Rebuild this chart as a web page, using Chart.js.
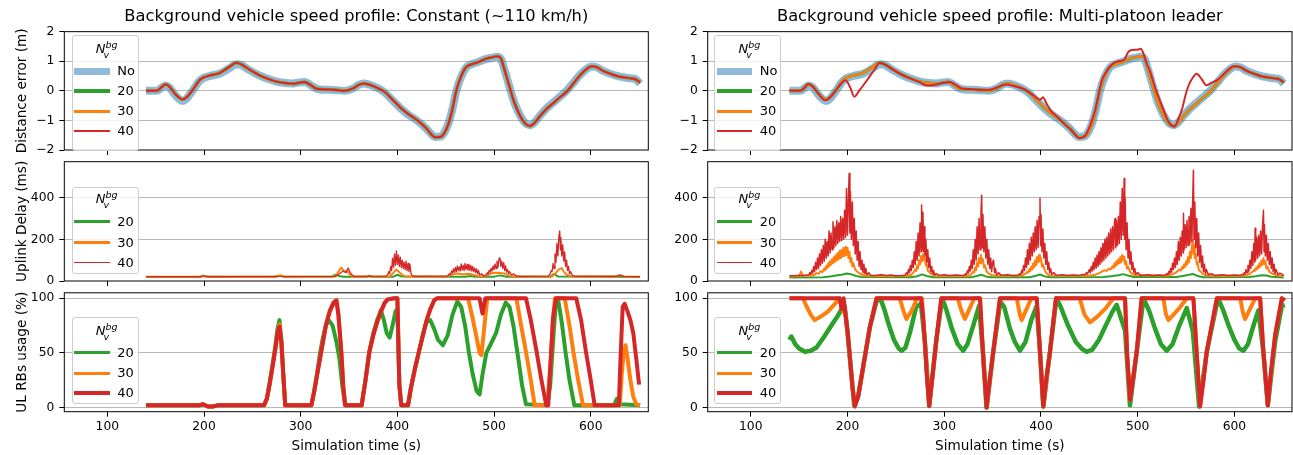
<!DOCTYPE html>
<html>
<head>
<meta charset="utf-8">
<script src="https://cdn.jsdelivr.net/npm/chart.js@4.4.1/dist/chart.umd.min.js"></script>
<style>
  body { margin: 0; background: #fff; }
  #fig { position: relative; width: 1293px; height: 455px; overflow: hidden; font-family: 'DejaVu Sans', sans-serif; }
  #fig canvas { position: absolute; }
  .leg { position: absolute; box-sizing: border-box; border: 1px solid #cccccc; border-radius: 3px; background: rgba(255,255,255,0.8); }
  .leg .ttl { position: absolute; left: 0; width: 100%; text-align: center; font-size: 13px; line-height: 14px; height: 14px; }
  .leg .ss { display: inline-block; position: relative; width: 9px; height: 14px; vertical-align: top; }
  .leg .sp { position: absolute; left: 0; top: -4px; font-size: 9.5px; }
  .leg .sb { position: absolute; left: -2px; top: 6px; font-size: 9.5px; }
  .leg .sw { position: absolute; left: 1.5px; width: 35.5px; }
  .leg .lb { position: absolute; left: 44.5px; font-size: 13px; line-height: 16px; height: 16px; }
</style>
</head>
<body>
<div id="fig">
  <canvas id="distL" width="660" height="155" style="left:0;top:0"></canvas>
  <canvas id="distR" width="643" height="155" style="left:650px;top:0"></canvas>
  <canvas id="delayL" width="660" height="131" style="left:0;top:155px"></canvas>
  <canvas id="delayR" width="643" height="131" style="left:650px;top:155px"></canvas>
  <canvas id="rbL" width="660" height="169" style="left:0;top:286px"></canvas>
  <canvas id="rbR" width="643" height="169" style="left:650px;top:286px"></canvas>
</div>
<script>
// tick values
const xTicks = [100, 200, 300, 400, 500, 600];
const distTicks = [-2, -1, 0, 1, 2];
const delayTicks = [0, 200, 400];
const rbTicks = [0, 50, 100];

// distance error (m), [time s, value]
const distNo = [[140,0],[151,0],[156,0.1],[160,0.18],[164,0.12],[170,-0.14],[175,-0.3],[178,-0.34],[182,-0.26],[188,0],[196,0.36],[206,0.5],[216,0.58],[222,0.68],[228,0.8],[233,0.9],[238,0.88],[247,0.7],[256,0.54],[265,0.42],[274,0.32],[282,0.27],[292,0.25],[298,0.28],[304,0.3],[310,0.2],[316,0.08],[322,0.04],[334,0.03],[346,0.0],[354,0.08],[360,0.2],[365,0.25],[370,0.22],[375,0.16],[381,0.07],[387,-0.06],[395,-0.32],[403,-0.58],[411,-0.8],[420,-1.0],[430,-1.28],[435,-1.46],[439,-1.56],[445,-1.54],[449,-1.38],[453,-1.08],[457,-0.6],[461,0.0],[466,0.48],[471,0.78],[477,0.9],[482,0.96],[487,1.02],[492,1.08],[498,1.12],[503,1.15],[507,1.08],[510,0.8],[516,0.13],[521,-0.4],[527,-0.84],[532,-1.08],[537,-1.16],[542,-1.06],[547,-0.86],[554,-0.6],[561,-0.4],[568,-0.2],[575,0.0],[582,0.27],[589,0.54],[595,0.72],[601,0.82],[606,0.8],[613,0.67],[620,0.58],[628,0.5],[635,0.45],[642,0.42],[647,0.38],[651,0.24]];
const distConst = [[140,0],[151,0],[156,0.12],[160,0.21],[164,0.15],[170,-0.1],[175,-0.25],[178,-0.29],[182,-0.22],[188,0.02],[196,0.38],[206,0.52],[216,0.6],[222,0.72],[228,0.85],[233,0.95],[238,0.9],[247,0.72],[256,0.55],[265,0.42],[274,0.32],[282,0.27],[292,0.24],[298,0.27],[304,0.3],[310,0.2],[316,0.08],[322,0.05],[334,0.04],[346,0.0],[354,0.08],[360,0.2],[365,0.25],[370,0.22],[375,0.16],[381,0.07],[387,-0.04],[395,-0.3],[403,-0.56],[411,-0.78],[420,-0.98],[430,-1.27],[435,-1.47],[439,-1.57],[445,-1.55],[449,-1.4],[453,-1.1],[457,-0.6],[461,0.02],[466,0.5],[471,0.8],[477,0.9],[482,0.95],[487,1.02],[492,1.09],[498,1.13],[503,1.17],[507,1.1],[510,0.8],[516,0.13],[521,-0.4],[527,-0.85],[532,-1.1],[537,-1.19],[542,-1.08],[547,-0.87],[554,-0.62],[561,-0.42],[568,-0.22],[575,-0.03],[582,0.25],[589,0.53],[595,0.72],[601,0.83],[606,0.8],[613,0.67],[620,0.58],[628,0.49],[635,0.45],[642,0.42],[647,0.38],[651,0.28]];
const distMulti40 = [[140,0],[151,0],[156,0.12],[159,0.23],[164,0.15],[170,-0.1],[177,-0.32],[182,-0.22],[188,0.02],[192,0.19],[198,0.36],[203,0.1],[207,-0.2],[212,0.0],[220,0.35],[228,0.72],[233,0.94],[238,0.9],[247,0.72],[254,0.58],[265,0.42],[274,0.3],[282,0.18],[290,0.2],[298,0.26],[306,0.3],[312,0.2],[318,0.08],[326,0.06],[334,0.04],[347,0.04],[355,0.12],[364,0.21],[372,0.16],[381,0.08],[388,-0.05],[394,-0.2],[399,-0.3],[402,-0.22],[406,-0.45],[411,-0.7],[416,-0.85],[425,-1.15],[432,-1.35],[440,-1.6],[446,-1.5],[451,-1.15],[456,-0.65],[463,0.36],[467,0.62],[471,0.81],[476,0.95],[480,1.0],[486,1.05],[490,1.3],[493,1.37],[500,1.39],[503,1.42],[506,1.26],[509,0.95],[513,0.64],[518,0.1],[523,-0.33],[528,-0.75],[532,-1.05],[538,-1.21],[542,-0.95],[546,-0.6],[549,-0.2],[552,0.13],[556,0.4],[561,0.58],[566,0.4],[571,0.19],[576,0.27],[582,0.36],[590,0.6],[599,0.83],[606,0.8],[613,0.67],[620,0.58],[628,0.49],[635,0.45],[642,0.42],[647,0.38],[651,0.28]];

// uplink delay (ms)
const delayConst20 = [[140,19],[196,19],[199,26],[203,20],[272,20],[278,25],[284,20],[332,20],[336,30],[340,24],[344,20],[368,20],[371,26],[374,20],[396,21],[400,30],[404,22],[470,20],[476,24],[480,20],[500,21],[506,27],[512,21],[558,21],[562,34],[566,22],[620,20],[651,19]];
const delayConst30 = [[140,20],[196,20],[199,24],[203,21],[275,21],[279,28],[283,21],[336,22],[339,45],[342,65],[345,45],[348,50],[351,30],[354,21],[392,22],[396,40],[399,56],[402,42],[405,30],[408,22],[450,22],[456,30],[462,36],[468,32],[474,35],[480,28],[486,22],[492,26],[498,38],[504,40],[510,36],[516,26],[522,21],[560,22],[564,40],[567,55],[570,62],[572,45],[575,30],[580,22],[626,22],[630,28],[634,22],[651,21]];
const delayConst40 = [[140,21],[196,21],[200,25],[204,21],[336,22],[340,35],[344,48],[347,40],[349,62],[352,35],[355,22],[388,23],[390,30],[391,45],[392,35],[393,70],[394,50],[395,110],[396,65],[397,130],[398,75],[399,145],[400,80],[401,125],[402,70],[403,115],[404,65],[405,100],[406,60],[407,90],[408,55],[409,95],[410,50],[411,85],[412,45],[413,80],[414,40],[414.6,30],[417,22],[452,23],[454,35],[455,30],[456,48],[457,38],[458,58],[459,42],[460,65],[461,45],[462,72],[463,50],[464,68],[465,48],[466,82],[467,52],[468,75],[469,50],[470,85],[471,55],[472,78],[473,52],[474,80],[475,50],[476,75],[477,48],[478,70],[479,45],[480,62],[481,40],[482,58],[483,35],[484,50],[485,30],[487,35],[489,24],[492,30],[493,40],[494,35],[495,52],[496,42],[497,62],[498,48],[499,72],[500,55],[501,82],[502,60],[503,95],[504,65],[505,105],[506,112],[507,70],[508,95],[509,60],[510,88],[511,50],[512,72],[513,42],[514,55],[515,35],[516,45],[518,30],[520,35],[523,24],[527,22],[556,23],[558,35],[559,50],[560,45],[561,85],[562,60],[563,130],[564,90],[565,180],[566,120],[567,215],[567.9,240],[568.6,150],[569,210],[570,120],[571,175],[572,95],[573,140],[574,70],[575,100],[576,50],[577,70],[578,35],[579,45],[581,26],[584,22],[626,22],[630,28],[634,22],[651,21]];
const delayMulti20 = [[140,17],[175,18],[182,22],[188,26],[194,30],[199,36],[204,32],[209,24],[215,19],[265,18],[272,23],[277,32],[282,24],[288,18],[328,18],[334,24],[338,30],[343,22],[348,18],[388,18],[394,24],[399,31],[404,22],[410,18],[465,19],[474,24],[480,28],[485,33],[490,26],[496,19],[540,19],[548,25],[553,30],[557,34],[562,24],[568,18],[615,19],[622,23],[628,28],[633,26],[638,20],[651,17]];
const delayMulti30 = [[140,23],[150,23],[152,45],[154,24],[162,26],[166,30],[168,38],[170,34],[172,48],[174,42],[176,60],[177,52],[178,72],[179,62],[180,85],[181,70],[182,95],[183,78],[184,105],[185,85],[186,115],[187,92],[188,125],[189,98],[190,135],[191,105],[192,145],[193,110],[194,150],[195,118],[196,158],[197,120],[198,165],[199,125],[200,160],[201,110],[202,140],[203,90],[204,110],[205,70],[206,85],[208,55],[210,45],[213,35],[218,26],[225,24],
  [262,24],[266,30],[268,40],[270,55],[271,48],[272,75],[273,60],[274,100],[275,80],[276,120],[277,95],[278,128],[279,100],[280,115],[281,75],[282,80],[283,50],[285,40],[287,32],[292,24],
  [324,24],[328,32],[330,45],[331,40],[332,65],[333,52],[334,90],[335,70],[336,110],[337,85],[338,125],[339,90],[340,105],[341,65],[342,75],[344,45],[346,35],[350,26],
  [380,25],[384,35],[386,45],[387,40],[388,58],[389,48],[390,70],[391,55],[392,85],[393,65],[394,100],[395,75],[396,115],[397,90],[398,125],[399,95],[400,110],[401,70],[402,80],[404,50],[406,35],[409,27],
  [450,25],[456,30],[460,38],[463,45],[466,52],[468,48],[470,60],[472,55],[474,72],[475,62],[476,85],[477,70],[478,95],[479,78],[480,105],[481,85],[482,115],[483,90],[484,125],[485,100],[486,118],[487,80],[488,95],[489,60],[490,70],[492,45],[494,35],[497,28],
  [530,25],[536,32],[540,42],[543,55],[545,52],[546,68],[547,60],[548,80],[549,68],[550,95],[551,78],[552,115],[553,90],[554,140],[555,110],[556,170],[557,197],[557.7,130],[558.3,170],[559,110],[560,130],[561,80],[562,90],[563,55],[565,45],[568,32],[573,25],
  [610,25],[615,32],[618,42],[620,52],[621,48],[622,62],[623,55],[624,72],[625,62],[626,85],[627,70],[628,98],[629,78],[630,110],[631,82],[632,95],[633,60],[634,70],[636,45],[639,35],[644,27],[651,25]];
const delayMulti40 = [[140,25],[150,26],[155,27],[158,29],[160,30],[161,40],[162,32],[163,50],[164,38],[165,70],[166,45],[167,90],[168,55],[169,110],[170,60],[171,130],[172,75],[173,150],[174,85],[175,170],[176,95],[177,200],[178,110],[179,190],[180,120],[181,240],[182,135],[183,230],[184,150],[185,285],[186,160],[187,260],[188,170],[189,290],[190,180],[191,280],[192,190],[193,310],[194,195],[195,300],[196,200],[197,340],[198,210],[199,444],[200,220],[201,400],[201.7,516],[202.5,230],[203,430],[204,200],[205,380],[206,170],[207,300],[208,130],[209,240],[210,100],[211,190],[212,70],[213,140],[214,55],[215,100],[216,40],[217,80],[218,35],[219,60],[220,30],[222,40],[224,28],[228,27],[235,30],[240,26],[245,29],[250,25],
  [258,26],[260,30],[261,40],[262,32],[263,55],[264,40],[265,75],[266,50],[267,100],[268,65],[269,140],[270,80],[271,190],[272,100],[273,230],[274,120],[275,280],[276,140],[276.6,365],[277.3,150],[278,330],[278.7,140],[279.5,260],[280,120],[281,200],[282,90],[283,150],[284,65],[285,110],[286,45],[287,70],[288,35],[289,50],[290,30],[292,35],[295,27],[300,30],[305,26],[312,29],
  [320,26],[322,35],[323,30],[324,50],[325,38],[326,70],[327,48],[328,100],[329,60],[330,150],[331,80],[332,200],[333,100],[334,260],[335,130],[336,300],[337,150],[338,330],[338.7,412],[339.4,160],[340,320],[341,140],[342,260],[343,110],[344,200],[345,80],[346,150],[347,60],[348,110],[349,45],[350,90],[351,100],[352,40],[353,60],[354,30],[356,40],[359,27],[365,30],[370,26],
  [376,27],[378,35],[379,30],[380,50],[381,38],[382,75],[383,50],[384,110],[385,65],[386,150],[387,80],[388,180],[389,100],[390,210],[391,120],[392,230],[393,140],[394,260],[395,150],[396,290],[397,160],[398,310],[399,397],[399.6,170],[400,320],[401,140],[402,250],[403,110],[404,180],[405,80],[406,140],[407,55],[408,90],[409,40],[410,60],[411,32],[413,40],[416,27],[422,30],[428,26],[434,29],
  [440,27],[443,32],[445,28],[447,40],[448,33],[450,55],[451,40],[452,70],[453,48],[454,90],[455,55],[456,110],[457,62],[458,125],[459,70],[460,140],[461,80],[462,160],[463,90],[464,180],[465,100],[466,200],[467,110],[468,210],[469,120],[470,230],[471,130],[472,250],[473,140],[474,260],[475,150],[476,280],[476.6,300],[477.3,160],[478,290],[479,170],[480,310],[481,180],[482,380],[483,200],[484,445],[485,220],[486,492],[486.6,200],[487,400],[488,150],[489,280],[490,110],[491,200],[492,80],[493,140],[494,55],[495,90],[496,40],[497,60],[498,32],[500,40],[503,27],[510,30],[516,26],[522,29],
  [528,27],[530,35],[531,30],[532,45],[533,35],[534,60],[535,42],[536,85],[537,55],[538,110],[539,65],[540,140],[541,80],[542,190],[543,100],[544,210],[545,120],[546,240],[547,135],[547.3,325],[548,150],[549,270],[550,160],[551,290],[552,170],[553,310],[554,180],[555,350],[556,190],[557,420],[557.6,532],[558.2,200],[559,380],[560,160],[561,300],[562,120],[563,230],[564,90],[565,170],[566,65],[567,120],[568,45],[569,80],[570,35],[571,55],[573,30],[576,35],[580,27],[587,30],[594,26],[600,29],
  [606,27],[608,32],[609,29],[610,40],[611,33],[612,55],[613,40],[614,75],[615,48],[616,100],[617,60],[618,140],[619,75],[620,180],[621,90],[621.4,253],[622,100],[623,210],[624,110],[625,220],[626,120],[627,240],[628,130],[629,260],[630,340],[630.6,140],[631,270],[632,120],[633,220],[634,100],[635,180],[636,80],[637,140],[638,60],[639,110],[640,45],[641,80],[642,35],[643,55],[645,30],[647,38],[651,27]];

// UL RBs usage (%)
const rbConst20 = [[140,2],[195,2],[199,3],[204,1],[209,1],[214,2],[262,2],[265,8],[268,24],[271,40],[274,58],[276,72],[278,80],[280,62],[282,30],[284,2],[311,2],[314,15],[317,32],[320,50],[323,64],[326,75],[329,80],[333,75],[337,60],[340,45],[343,20],[346,2],[363,2],[367,25],[371,51],[375,68],[379,80],[383,89],[386,80],[389,68],[392,64],[395,75],[398,88],[400,90],[402,21],[404,2],[411,2],[414,18],[418,35],[422,50],[426,65],[430,78],[434,80],[438,72],[442,62],[447,57],[452,66],[457,85],[462,97],[466,92],[470,75],[474,50],[478,30],[482,15],[485,12],[488,30],[492,50],[496,57],[502,68],[507,85],[512,96],[516,92],[520,75],[525,45],[529,20],[533,3],[555,2],[558,20],[561,60],[564,98],[566,100],[570,78],[574,50],[578,25],[583,2],[624,2],[627,8],[630,3],[651,2]];
const rbConst30 = [[140,2],[195,2],[199,3],[204,1],[209,1],[214,2],[262,2],[265,8],[268,22],[271,38],[274,55],[276,68],[278,76],[280,60],[282,30],[284,2],[311,2],[314,15],[317,30],[320,45],[323,60],[326,75],[330,88],[334,96],[337,98],[339,85],[342,51],[344,20],[346,2],[363,2],[367,25],[371,51],[375,66],[379,78],[383,88],[387,96],[390,99],[397,100],[400,100],[402,21],[404,2],[411,2],[414,18],[418,35],[422,50],[426,65],[430,79],[434,90],[438,98],[441,100],[473,100],[477,85],[481,68],[485,50],[487,48],[490,75],[493,100],[523,100],[528,75],[533,51],[538,25],[542,2],[555,2],[558,35],[561,82],[563,100],[573,100],[578,75],[582,51],[587,25],[592,2],[630,2],[632,30],[634,50],[636,57],[638,45],[641,25],[644,10],[647,3],[651,2]];
const rbConst40 = [[140,2],[195,2],[199,3],[204,1],[209,1],[214,2],[262,2],[265,8],[268,22],[271,38],[274,55],[276,68],[278,74],[280,60],[282,30],[284,2],[311,2],[314,15],[317,30],[320,45],[323,60],[326,75],[330,88],[334,96],[337,98],[339,85],[342,51],[344,20],[346,2],[363,2],[367,25],[371,51],[375,66],[379,78],[383,88],[387,96],[390,99],[397,100],[400,100],[402,21],[404,2],[411,2],[414,18],[418,35],[422,50],[426,65],[430,79],[434,90],[438,98],[441,100],[485,100],[488,86],[491,100],[533,100],[538,80],[544,51],[549,25],[554,2],[556,2],[558,35],[561,82],[564,100],[585,100],[590,80],[595,51],[600,25],[604,2],[629,2],[631,50],[633,92],[635,95],[638,88],[641,80],[644,68],[647,45],[650,21]];
const rbMulti20 = [[140,62],[142,65],[146,58],[150,54],[156,51],[162,52],[168,55],[176,65],[184,76],[190,84],[194,90],[197,93],[200,70],[203,40],[207,2],[211,10],[216,36],[223,73],[230,97],[234,100],[238,90],[243,75],[248,62],[253,54],[256,52],[260,55],[265,70],[271,92],[276,95],[280,60],[284.5,1.5],[292,63],[298,100],[302,90],[308,72],[314,58],[319.6,52],[324,58],[330,75],[336,93],[340,51],[343.8,0],[350.7,51],[358,97],[362,92],[368,72],[373,60],[378.3,52],[384,60],[390,80],[395.6,93],[399,51],[402.4,1],[409.3,51],[416,100],[420,93],[428,75],[436,60],[442,54],[447.3,51],[453,53],[460,62],[468,77],[474,88],[478.3,94],[487,70],[492,2],[499,51],[506,100],[512,88],[518,72],[524,58],[530,52],[536,58],[543,75],[550.7,91],[557,70],[563.5,1],[571.4,51],[583,100],[588,90],[594,75],[600,62],[605,54],[609.3,52],[614,58],[620,76],[624.8,89],[630,50],[634.5,2],[642,60],[649,93],[652,94]];
const rbMulti30 = [[140,100],[154,100],[158,92],[162,85],[166,80],[172,83],[180,88],[186,94],[192,100],[194,90],[198,85],[202,51],[205,20],[207.6,1],[211,10],[216,36],[223,73],[230,100],[254,100],[258,88],[261,81],[266,88],[272,100],[277,100],[280,60],[284.5,1.5],[292,63],[297,100],[314,100],[318,88],[321.4,81],[326,90],[331,100],[337,100],[340,51],[343.8,0],[350.7,51],[357.6,100],[375,100],[378,86],[380,80],[385,90],[390,100],[395.6,100],[399,51],[402.4,1],[409.3,51],[415.5,100],[440,100],[445,85],[450.7,78],[458,83],[466,90],[475,100],[487,100],[489,50],[492,7],[499,51],[504,100],[526.6,100],[529,86],[531.7,80],[537,85],[544,92],[550.7,100],[557.6,100],[561,50],[564.5,1],[571.4,51],[581.8,100],[606,100],[608.5,88],[611,81],[616,90],[621.4,100],[626.6,100],[630,50],[634.5,2],[642,66],[649,100],[652,98]];
const rbMulti40 = [[140,100],[192,100],[194,90],[196,100],[198,85],[200,70],[202,51],[205,20],[207.6,1],[211,10],[216,36],[223,73],[230,100],[276,100],[278,85],[280,60],[282,30],[284.5,1.5],[288,30],[292,63],[297,100],[337,100],[340,51],[343.8,0],[347,25],[350.7,51],[357.6,100],[395.6,100],[399,51],[402.4,1],[406,30],[409.3,51],[415.5,100],[486.9,100],[489,50],[492.1,7],[495,25],[499,51],[504,100],[557.6,100],[561,50],[564.5,1],[568,25],[571.4,51],[581.8,100],[626.6,100],[630,50],[634.5,2],[638,35],[642,66],[649,100],[652,98]];

const colNo = 'rgba(31,119,180,0.5)';
const col20 = '#2ca02c';
const col30 = '#ff7f0e';
const col40 = '#d62728';
const FONT = 'DejaVu Sans';

Chart.defaults.font.family = FONT;
Chart.defaults.color = '#000';

// matplotlib style full box around the axes
const framePlugin = {
  id: 'frame',
  afterDatasetsDraw(chart) {
    const a = chart.chartArea;
    const ctx = chart.ctx;
    ctx.save();
    ctx.strokeStyle = '#000';
    ctx.lineWidth = 1;
    ctx.strokeRect(a.left, a.top, a.right - a.left, a.bottom - a.top);
    ctx.restore();
  }
};

function series(pts, color, width, order, smooth) {
  return {
    data: pts.map(p => ({ x: p[0], y: p[1] })),
    borderColor: color,
    borderWidth: width,
    pointRadius: 0,
    fill: false,
    order: order,
    tension: 0,
    cubicInterpolationMode: smooth ? 'monotone' : 'default',
    borderJoinStyle: 'round'
  };
}

function panel(id, cfg) {
  const left = cfg.side === 'L';
  return new Chart(document.getElementById(id), {
    type: 'line',
    data: { datasets: cfg.datasets },
    options: {
      responsive: false,
      animation: false,
      events: [],
      layout: { padding: { top: cfg.padTop, right: left ? 11.7 : 1, bottom: 0, left: 0 } },
      plugins: {
        legend: { display: false },
        tooltip: { enabled: false },
        title: {
          display: !!cfg.title,
          text: cfg.title || '',
          fullSize: false,
          color: '#000',
          font: { family: FONT, size: 16.3, weight: 'normal' },
          padding: { top: 7, bottom: 5.1 }
        }
      },
      scales: {
        x: {
          type: 'linear',
          min: 55.5,
          max: 659.5,
          afterBuildTicks: s => { s.ticks = xTicks.map(v => ({ value: v })); },
          afterFit: s => { s.height = cfg.xHeight; s.paddingLeft = 0; s.paddingRight = 0; },
          grid: { drawOnChartArea: false, drawTicks: true, tickLength: 5, tickColor: '#000', tickWidth: 1 },
          border: { display: false },
          ticks: { display: !!cfg.showX, font: { size: 12.3 }, color: '#000', padding: 3, maxRotation: 0 },
          title: { display: !!cfg.showX, text: 'Simulation time (s)', font: { size: 13.6, lineHeight: 1 }, color: '#000', padding: { top: 0, bottom: 1.5 } }
        },
        y: {
          type: 'linear',
          min: cfg.yMin,
          max: cfg.yMax,
          afterBuildTicks: s => { s.ticks = cfg.yTicks.map(v => ({ value: v })); },
          afterFit: s => { s.width = left ? 64.3 : 57.7; s.paddingTop = 0; s.paddingBottom = 0; },
          grid: {
            color: c => (c.tick && (c.tick.value <= cfg.yMin || c.tick.value >= cfg.yMax)) ? 'rgba(0,0,0,0)' : '#b0b0b0',
            lineWidth: 0.9,
            drawTicks: true,
            tickLength: 5,
            tickColor: '#000',
            tickWidth: 1
          },
          border: { display: false },
          ticks: {
            font: { size: 12.3 },
            color: '#000',
            padding: 5,
            callback: v => String(v).replace('-', '\u2212')
          },
          title: {
            display: left,
            text: cfg.yLabel || '',
            font: { size: 13.6 },
            color: '#000',
            padding: { top: 14.3, bottom: 0 }
          }
        }
      }
    },
    plugins: [framePlugin]
  });
}

// row 1: distance error
panel('distL', {
  side: 'L', padTop: 0, xHeight: 5, yMin: -2, yMax: 2, yTicks: distTicks,
  title: 'Background vehicle speed profile: Constant (~110 km/h)', yLabel: 'Distance error (m)',
  datasets: [
    series(distNo, colNo, 8, 4, true),
    series(distConst, col20, 3, 3, true),
    series(distConst, col30, 2.5, 2, true),
    series(distConst, col40, 2, 1, true)
  ]
});
panel('distR', {
  side: 'R', padTop: 0, xHeight: 5, yMin: -2, yMax: 2, yTicks: distTicks,
  title: 'Background vehicle speed profile: Multi-platoon leader',
  datasets: [
    series(distNo, colNo, 8, 4, true),
    series(distConst, col20, 3, 3, true),
    series(distConst, col30, 2.5, 2, true),
    series(distMulti40, col40, 2, 1, true)
  ]
});

// row 2: uplink delay
panel('delayL', {
  side: 'L', padTop: 6.7, xHeight: 5, yMin: 0, yMax: 573, yTicks: delayTicks, yLabel: 'Uplink Delay (ms)',
  datasets: [
    series(delayConst20, col20, 2, 3),
    series(delayConst30, col30, 2, 2),
    series(delayConst40, col40, 1.3, 1)
  ]
});
panel('delayR', {
  side: 'R', padTop: 6.7, xHeight: 5, yMin: 0, yMax: 573, yTicks: delayTicks,
  datasets: [
    series(delayMulti20, col20, 2, 3),
    series(delayMulti30, col30, 2, 2),
    series(delayMulti40, col40, 1.5, 1)
  ]
});

// row 3: UL RB usage
panel('rbL', {
  side: 'L', padTop: 6.8, xHeight: 43.3, yMin: -3.8, yMax: 105, yTicks: rbTicks, yLabel: 'UL RBs usage (%)', showX: true,
  datasets: [
    series(rbConst20, col20, 4, 3),
    series(rbConst30, col30, 4, 2),
    series(rbConst40, col40, 4, 1)
  ]
});
panel('rbR', {
  side: 'R', padTop: 6.8, xHeight: 43.3, yMin: -3.8, yMax: 105, yTicks: rbTicks, showX: true,
  datasets: [
    series(rbMulti20, col20, 4.5, 3),
    series(rbMulti30, col30, 4, 2),
    series(rbMulti40, col40, 4, 1)
  ]
});

// legends (matplotlib style boxes inside the axes)
function addLegend(x, y, h, titleY, entries) {
  const box = document.createElement('div');
  box.className = 'leg';
  box.style.left = x + 'px';
  box.style.top = y + 'px';
  box.style.width = '67px';
  box.style.height = h + 'px';
  const t = document.createElement('div');
  t.className = 'ttl';
  t.style.top = (titleY - 7) + 'px';
  t.innerHTML = '<i>N</i><span class="ss"><i class="sp">bg</i><i class="sb">v</i></span>';
  box.appendChild(t);
  entries.forEach(e => {
    const sw = document.createElement('div');
    sw.className = 'sw';
    sw.style.top = (e.y - e.w / 2) + 'px';
    sw.style.height = e.w + 'px';
    sw.style.background = e.color;
    box.appendChild(sw);
    const lb = document.createElement('div');
    lb.className = 'lb';
    lb.style.top = (e.y - 8) + 'px';
    lb.textContent = e.label;
    box.appendChild(lb);
  });
  document.getElementById('fig').appendChild(box);
}

const legDist = [
  { label: 'No', color: colNo, w: 7, y: 35 },
  { label: '20', color: col20, w: 3.3, y: 55 },
  { label: '30', color: col30, w: 3, y: 75 },
  { label: '40', color: col40, w: 2, y: 95 }
];
const legDelay = [
  { label: '20', color: col20, w: 3, y: 34.3 },
  { label: '30', color: col30, w: 3, y: 55 },
  { label: '40', color: col40, w: 1.3, y: 75 }
];
const legRb = [
  { label: '20', color: col20, w: 3.3, y: 34.4 },
  { label: '30', color: col30, w: 3.3, y: 55 },
  { label: '40', color: col40, w: 4, y: 75 }
];
addLegend(71.7, 35, 116, 13, legDist);
addLegend(714.3, 35, 116, 13, legDist);
addLegend(71.7, 186.7, 87.3, 11.5, legDelay);
addLegend(714.3, 186.7, 87.3, 11.5, legDelay);
addLegend(71.7, 317.3, 86.7, 12.5, legRb);
addLegend(714.3, 317.3, 86.7, 12.5, legRb);
</script>
</body>
</html>
